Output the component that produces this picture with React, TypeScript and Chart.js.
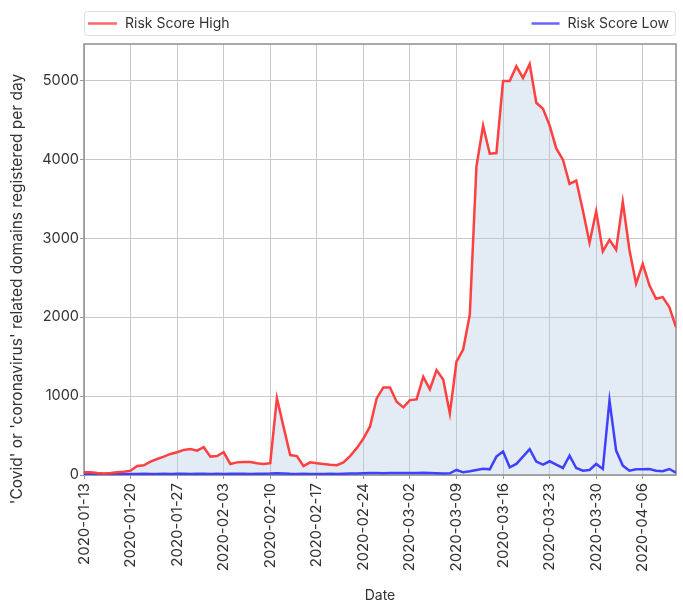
import React, { useEffect, useRef } from 'react';
import { Chart, registerables } from 'chart.js';
Chart.register(...registerables);

const dates = [
  '2020-01-13','2020-01-14','2020-01-15','2020-01-16','2020-01-17','2020-01-18','2020-01-19',
  '2020-01-20','2020-01-21','2020-01-22','2020-01-23','2020-01-24','2020-01-25','2020-01-26',
  '2020-01-27','2020-01-28','2020-01-29','2020-01-30','2020-01-31','2020-02-01','2020-02-02',
  '2020-02-03','2020-02-04','2020-02-05','2020-02-06','2020-02-07','2020-02-08','2020-02-09',
  '2020-02-10','2020-02-11','2020-02-12','2020-02-13','2020-02-14','2020-02-15','2020-02-16',
  '2020-02-17','2020-02-18','2020-02-19','2020-02-20','2020-02-21','2020-02-22','2020-02-23',
  '2020-02-24','2020-02-25','2020-02-26','2020-02-27','2020-02-28','2020-02-29','2020-03-01',
  '2020-03-02','2020-03-03','2020-03-04','2020-03-05','2020-03-06','2020-03-07','2020-03-08',
  '2020-03-09','2020-03-10','2020-03-11','2020-03-12','2020-03-13','2020-03-14','2020-03-15',
  '2020-03-16','2020-03-17','2020-03-18','2020-03-19','2020-03-20','2020-03-21','2020-03-22',
  '2020-03-23','2020-03-24','2020-03-25','2020-03-26','2020-03-27','2020-03-28','2020-03-29',
  '2020-03-30','2020-03-31','2020-04-01','2020-04-02','2020-04-03','2020-04-04','2020-04-05',
  '2020-04-06','2020-04-07','2020-04-08','2020-04-09','2020-04-10','2020-04-11',
];

const tickLabels = [
  '2020-01-13','2020-01-20','2020-01-27','2020-02-03','2020-02-10','2020-02-17','2020-02-24',
  '2020-03-02','2020-03-09','2020-03-16','2020-03-23','2020-03-30','2020-04-06',
];

const yTicks = [0, 1000, 2000, 3000, 4000, 5000];

const seriesNames = ['Risk Score High', 'Risk Score Low'];

const riskHigh = [
  34, 34, 25, 20, 25, 34, 42,
  55, 115, 123, 170, 203, 233, 267,
  288, 318, 330, 309, 352, 233, 240,
  288, 140, 160, 164, 164, 150, 139,
  150, 975, 610, 253, 240, 114, 160,
  150, 140, 130, 125, 160, 240, 340,
  460, 615, 970, 1110, 1110, 928, 857,
  949, 958, 1244, 1085, 1329, 1211, 781,
  1435, 1590, 2030, 3909, 4425, 4070, 4079,
  4990, 4990, 5178, 5030, 5205, 4715, 4640,
  4430, 4137, 3995, 3688, 3730, 3350, 2943,
  3340, 2833, 2980, 2854, 3460, 2850, 2423,
  2676, 2402, 2232, 2254, 2127, 1873,
];

const riskLow = [
  10, 12, 12, 10, 12, 14, 12,
  12, 14, 15, 14, 13, 15, 14,
  15, 16, 14, 15, 16, 14, 15,
  14, 15, 16, 15, 14, 15, 16,
  18, 22, 20, 16, 14, 15, 14,
  13, 14, 15, 14, 16, 18, 20,
  22, 24, 25, 22, 24, 26, 25,
  24, 26, 28, 25, 22, 18, 21,
  64, 34, 47, 64, 80, 72, 233,
  297, 97, 140, 233, 326, 170, 131,
  174, 131, 89, 246, 89, 55, 64,
  140, 76, 945, 309, 119, 55, 72,
  72, 76, 55, 47, 76, 30,
];

const yTitle = "'Covid' or 'coronavirus' related domains registered per day";
const xTitle = 'Date';

const FONT = 'Inter, "Noto Sans", sans-serif';
const RED = '#ff4040';
const BLUE = '#4040ff';
const TEXT = '#333333';
const GRID = '#c9c9c9';

export default function App() {
  const ref = useRef<HTMLCanvasElement>(null);

  useEffect(() => {
    const canvas = ref.current;
    if (!canvas) return;

    const framePlugin = {
      id: 'frame',
      beforeDatasetsDraw(chart: any) {
        const { ctx, chartArea: a } = chart;
        ctx.save();
        ctx.strokeStyle = '#8f8f8f';
        ctx.lineWidth = 1.5;
        ctx.strokeRect(a.left, a.top, a.right - a.left, a.bottom - a.top);
        ctx.restore();
      },
    };

    const legendPlugin = {
      id: 'boxLegend',
      afterDraw(chart: any) {
        const { ctx, chartArea: a } = chart;
        const top = 11;
        const h = 24;
        const left = a.left;
        const right = a.right;
        ctx.save();
        ctx.beginPath();
        (ctx as any).roundRect(left + 0.5, top + 0.5, right - left - 1, h, 3);
        ctx.fillStyle = '#ffffff';
        ctx.fill();
        ctx.strokeStyle = '#dddddd';
        ctx.lineWidth = 1;
        ctx.stroke();
        const cy = top + h / 2 + 0.5;
        ctx.font = `14px ${FONT}`;
        ctx.textBaseline = 'middle';
        ctx.textAlign = 'left';
        ctx.strokeStyle = 'rgba(255,64,64,0.8)';
        ctx.lineWidth = 2.5;
        ctx.beginPath();
        ctx.moveTo(left + 4, cy);
        ctx.lineTo(left + 33, cy);
        ctx.stroke();
        ctx.fillStyle = TEXT;
        ctx.fillText(seriesNames[0], left + 41, cy);
        const w = ctx.measureText(seriesNames[1]).width;
        const tx = right - 7 - w;
        ctx.strokeStyle = 'rgba(64,64,255,0.8)';
        ctx.beginPath();
        ctx.moveTo(tx - 36, cy);
        ctx.lineTo(tx - 8, cy);
        ctx.stroke();
        ctx.fillText(seriesNames[1], tx, cy);
        ctx.restore();
      },
    };

    const yTitlePlugin = {
      id: 'yTitle',
      afterDraw(chart: any) {
        const { ctx } = chart;
        ctx.save();
        ctx.translate(17, 289);
        ctx.rotate(-Math.PI / 2);
        ctx.font = `15.5px ${FONT}`;
        ctx.fillStyle = TEXT;
        ctx.textAlign = 'center';
        ctx.textBaseline = 'middle';
        ctx.fillText(yTitle, 0, 0);
        ctx.restore();
      },
    };

    const chart = new Chart(canvas, {
      type: 'line',
      data: {
        datasets: [
          {
            label: seriesNames[0],
            data: dates.map((_, i) => ({ x: i, y: riskHigh[i] })),
            borderColor: RED,
            borderWidth: 2.5,
            backgroundColor: 'rgba(175,201,224,0.35)',
            fill: 'origin',
            pointRadius: 0,
            tension: 0,
          },
          {
            label: seriesNames[1],
            data: dates.map((_, i) => ({ x: i, y: riskLow[i] })),
            borderColor: BLUE,
            borderWidth: 2.5,
            fill: false,
            pointRadius: 0,
            tension: 0,
          },
        ],
      },
      options: {
        responsive: false,
        animation: false,
        layout: { padding: { top: 44, right: 7, left: 0, bottom: 0 } },
        plugins: {
          legend: { display: false },
          tooltip: { enabled: false },
          filler: { drawTime: 'beforeDatasetsDraw' },
        },
        scales: {
          x: {
            type: 'linear',
            min: 0,
            max: dates.length - 1,
            afterBuildTicks: (s: any) => {
              s.ticks = tickLabels.map((l) => ({ value: dates.indexOf(l) }));
            },
            afterFit: (s: any) => {
              s.height = 135;
              s.paddingLeft = 0;
              s.paddingRight = 0;
            },
            grid: { color: GRID, lineWidth: 1, tickLength: 4, tickColor: '#999' },
            border: { display: false },
            ticks: {
              autoSkip: false,
              maxRotation: 90,
              minRotation: 90,
              padding: 4,
              color: TEXT,
              font: { family: FONT, size: 15 },
              callback: (v: any) => dates[v as number],
            },
            title: {
              display: true,
              text: xTitle,
              color: TEXT,
              font: { family: FONT, size: 14 },
              padding: { top: 4, bottom: 6 },
            },
          },
          y: {
            type: 'linear',
            min: 0,
            max: 5460,
            afterBuildTicks: (s: any) => {
              s.ticks = yTicks.map((v) => ({ value: v }));
            },
            afterFit: (s: any) => {
              s.width = 84;
            },
            grid: { color: GRID, lineWidth: 1, tickLength: 4, tickColor: '#999' },
            border: { display: false },
            ticks: {
              padding: 1,
              color: TEXT,
              font: { family: FONT, size: 14.5 },
              callback: (v: any) => String(v),
            },
          },
        },
      },
      plugins: [framePlugin, legendPlugin, yTitlePlugin],
    } as any);

    return () => chart.destroy();
  }, []);

  return (
    <div style={{ position: 'fixed', left: 0, top: 0, width: 683, height: 610 }}>
      <canvas ref={ref} width={683} height={610} style={{ display: 'block', width: 683, height: 610 }} />
    </div>
  );
}
